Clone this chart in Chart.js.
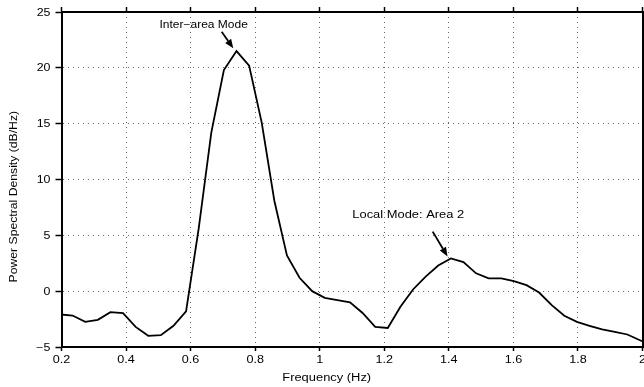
<!DOCTYPE html>
<html>
<head>
<meta charset="utf-8">
<script src="https://cdn.jsdelivr.net/npm/chart.js@4/dist/chart.umd.min.js"></script>
<style>
  html, body { margin: 0; padding: 0; background: #fff; }
  #wrap { width: 644px; height: 387px; }
</style>
</head>
<body>
<div id="wrap"><canvas id="c" width="644" height="387"></canvas></div>
<script>
// ---- data ----
const frequencies = [0.1953, 0.2344, 0.2734, 0.3125, 0.3516, 0.3906, 0.4297, 0.4688, 0.5078, 0.5469,
  0.5859, 0.6250, 0.6641, 0.7031, 0.7422, 0.7813, 0.8203, 0.8594, 0.8984, 0.9375,
  0.9766, 1.0156, 1.0547, 1.0938, 1.1328, 1.1719, 1.2109, 1.2500, 1.2891, 1.3281,
  1.3672, 1.4063, 1.4453, 1.4844, 1.5234, 1.5625, 1.6016, 1.6406, 1.6797, 1.7188,
  1.7578, 1.7969, 1.8359, 1.8750, 1.9141, 1.9531, 1.9922, 2.0313];
const psdValues = [-2.08, -2.18, -2.75, -2.57, -1.88, -1.97, -3.2, -4.0, -3.94, -3.1,
  -1.8, 5.6, 14.2, 19.8, 21.5, 20.2, 15.1, 8.1, 3.2, 1.2,
  0.0, -0.6, -0.8, -1.0, -1.95, -3.2, -3.3, -1.4, 0.15, 1.3,
  2.3, 2.93, 2.6, 1.6, 1.14, 1.14, 0.9, 0.54, -0.12, -1.25,
  -2.2, -2.75, -3.1, -3.43, -3.64, -3.88, -4.4, -4.9];
const xTickValues = [0.2, 0.4, 0.6, 0.8, 1.0, 1.2, 1.4, 1.6, 1.8, 2.0];
const xTickLabels = ['0.2', '0.4', '0.6', '0.8', '1', '1.2', '1.4', '1.6', '1.8', '2'];
const yTickValues = [-5, 0, 5, 10, 15, 20, 25];
const yTickLabels = ['\u22125', '0', '5', '10', '15', '20', '25'];
const xTitle = 'Frequency (Hz)';
const yTitle = 'Power Spectral Density (dB/Hz)';
const annotationTexts = ['Inter\u2212area Mode', 'Local Mode: Area 2'];
const annotationTextAt = [[0.5036, 23.55], [1.101, 6.51]];   // [x, y] data coords of text start
const arrowTail = [[0.6963, 23.24], [1.350, 5.33]];
const arrowTip  = [[0.7322, 21.75], [1.396, 3.11]];

// ---- rendering ----
const FONT = '10px "Liberation Sans", Arial, sans-serif';

function drawStretched(ctx, text, x, y, sx, align, rot) {
  ctx.save();
  ctx.translate(x, y);
  if (rot) ctx.rotate(rot);
  ctx.scale(sx, 1);
  ctx.font = FONT;
  ctx.fillStyle = '#000';
  ctx.textAlign = align;
  ctx.textBaseline = 'alphabetic';
  ctx.fillText(text, 0, 0);
  ctx.restore();
}

const textPlugin = {
  id: 'textPlugin',
  afterDraw(chart) {
    const ctx = chart.ctx;
    const xs = chart.scales.x, ys = chart.scales.y;
    const area = chart.chartArea;
    // tick labels
    xTickValues.forEach((v, i) => {
      drawStretched(ctx, xTickLabels[i], xs.getPixelForValue(v), area.bottom + 15.7, 1.26, 'center');
    });
    yTickValues.forEach((v, i) => {
      drawStretched(ctx, yTickLabels[i], area.left - 11, ys.getPixelForValue(v) + 3.5, 1.24, 'right');
    });
    // axis titles
    drawStretched(ctx, xTitle, 326.7, 381, 1.29, 'center');
    drawStretched(ctx, yTitle, 16.7, 196.7, 1.22, 'center', -Math.PI / 2);
    // annotations
    annotationTexts.forEach((t, i) => {
      const p = annotationTextAt[i];
      drawStretched(ctx, t, xs.getPixelForValue(p[0]), ys.getPixelForValue(p[1]), i === 0 ? 1.2 : 1.29, 'left');
    });
    // arrows
    ctx.save();
    ctx.strokeStyle = '#000';
    ctx.fillStyle = '#000';
    ctx.lineWidth = 1.8;
    arrowTail.forEach((t, i) => {
      const x1 = xs.getPixelForValue(t[0]), y1 = ys.getPixelForValue(t[1]);
      const x2 = xs.getPixelForValue(arrowTip[i][0]), y2 = ys.getPixelForValue(arrowTip[i][1]);
      const ang = Math.atan2(y2 - y1, x2 - x1);
      const hl = 9, hw = 3.6;
      const bx = x2 - hl * Math.cos(ang), by = y2 - hl * Math.sin(ang);
      ctx.beginPath();
      ctx.moveTo(x1, y1);
      ctx.lineTo(bx, by);
      ctx.stroke();
      ctx.beginPath();
      ctx.moveTo(x2, y2);
      ctx.lineTo(bx + hw * Math.sin(ang), by - hw * Math.cos(ang));
      ctx.lineTo(bx - hw * Math.sin(ang), by + hw * Math.cos(ang));
      ctx.closePath();
      ctx.fill();
    });
    ctx.restore();
  }
};

const gridCommon = { color: '#666', lineWidth: 1, tickColor: '#000', tickWidth: 1.5 };

new Chart(document.getElementById('c'), {
  type: 'line',
  data: {
    datasets: [{
      data: frequencies.map((f, i) => ({ x: f, y: psdValues[i] })),
      borderColor: '#000',
      borderWidth: 1.8,
      pointRadius: 0,
      tension: 0,
      fill: false,
      clip: 0
    }]
  },
  options: {
    responsive: false,
    animation: false,
    devicePixelRatio: 1,
    layout: { padding: 0 },
    plugins: { legend: { display: false }, tooltip: { enabled: false } },
    scales: {
      x: {
        type: 'linear', position: 'bottom', min: 0.2, max: 2,
        ticks: { display: false, stepSize: 0.2 },
        grid: Object.assign({}, gridCommon, { tickLength: 4 }),
        border: { display: true, color: '#000', width: 2, dash: [1, 4] },
        afterFit: s => { s.height = 40; }
      },
      x2: {
        type: 'linear', position: 'top', min: 0.2, max: 2,
        ticks: { display: false, stepSize: 0.2 },
        grid: Object.assign({}, gridCommon, { tickLength: 5, drawOnChartArea: false }),
        border: { display: true, color: '#000', width: 2 },
        afterFit: s => { s.height = 12; }
      },
      y: {
        type: 'linear', position: 'left', min: -5, max: 25,
        ticks: { display: false, stepSize: 5 },
        grid: Object.assign({}, gridCommon, { tickLength: 6 }),
        border: { display: true, color: '#000', width: 2, dash: [1, 4] },
        afterFit: s => { s.width = 61.5; }
      },
      y2: {
        type: 'linear', position: 'right', min: -5, max: 25,
        ticks: { display: false, stepSize: 5 },
        grid: { drawOnChartArea: false, drawTicks: false },
        border: { display: true, color: '#000', width: 2 },
        afterFit: s => { s.width = 1.5; }
      }
    }
  },
  plugins: [textPlugin]
});
</script>
</body>
</html>
